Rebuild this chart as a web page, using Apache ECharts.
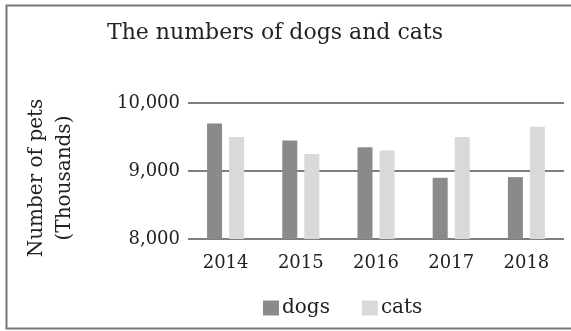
<!DOCTYPE html>
<html><head><meta charset="utf-8">
<script src="https://cdn.jsdelivr.net/npm/echarts@6/dist/echarts.min.js"></script>
<style>html,body{margin:0;padding:0;background:#fff}#c{width:571px;height:331px}</style>
</head><body><div id="c"></div>
<script>
const years = ['2014','2015','2016','2017','2018'];
const dogs = [9700, 9450, 9350, 8900, 8910];
const cats = [9500, 9250, 9300, 9500, 9650];
const yTicks = [8000, 9000, 10000];
const yName = 'Number of pets\n(Thousands)';

const F = 'DejaVu Serif';
const chart = echarts.init(document.getElementById('c'));
chart.setOption({
  animation: false,
  backgroundColor: '#fff',
  title: {text: 'The numbers of dogs and cats', left: 270, top: 17, textAlign: 'center',
    textStyle: {fontFamily: F, fontSize: 22, fontWeight: 'normal', color: '#222'}},
  graphic: [
    {type: 'polyline', shape: {points: [[620, 5.5], [6.5, 5.5], [6.5, 328.5], [620, 328.5]]},
      style: {fill: 'none', stroke: '#777', lineWidth: 2}},
    {type: 'text', x: 51, y: 178, rotation: Math.PI / 2,
      style: {text: yName, fontFamily: F, fontSize: 20, fill: '#222', lineHeight: 28,
        align: 'center', verticalAlign: 'middle'}}
  ],
  legend: {top: 293, left: 258, itemWidth: 16, itemHeight: 15, itemGap: 32,
    textStyle: {fontFamily: F, fontSize: 20, color: '#222', padding: [0, 0, 0, -2]}, icon: 'rect'},
  grid: {left: 188, right: 7, top: 103, bottom: 92},
  xAxis: {type: 'category', data: years, axisTick: {show: false},
    axisLine: {show: false},
    axisLabel: {fontFamily: F, fontSize: 18, color: '#222', margin: 15}},
  yAxis: {type: 'value', min: 8000, max: 10000, interval: 1000,
    axisLabel: {fontFamily: F, fontSize: 18, color: '#222', margin: 8,
      formatter: v => yTicks.includes(v) ? v.toLocaleString('en-US') : ''},
    splitLine: {lineStyle: {color: '#555', width: 1.5}}},
  series: [
    {name: 'dogs', type: 'bar', data: dogs, barWidth: 15, barGap: '47%', itemStyle: {color: '#8a8a8a'}},
    {name: 'cats', type: 'bar', data: cats, barWidth: 15, itemStyle: {color: '#d9d9d9'}}
  ]
});
</script></body></html>
